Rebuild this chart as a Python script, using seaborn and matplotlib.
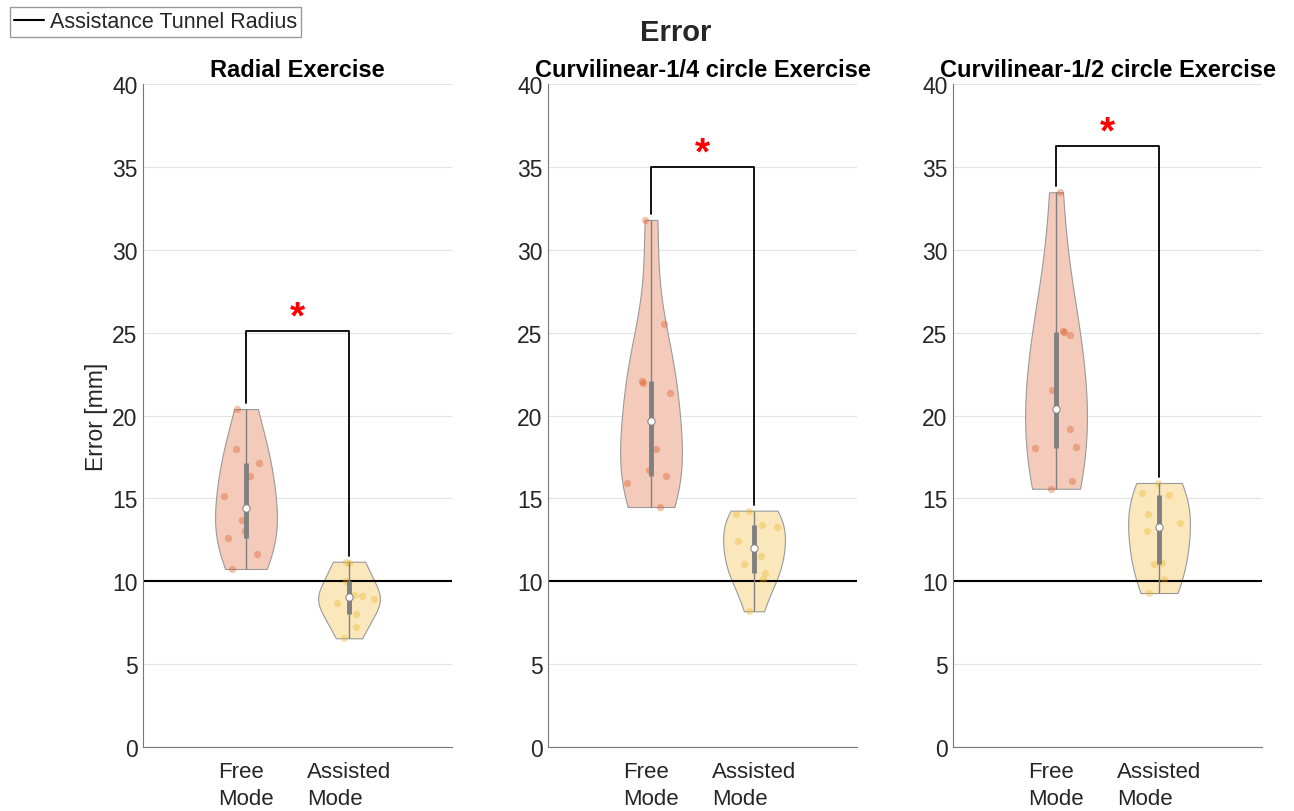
import matplotlib
matplotlib.use("Agg")
import matplotlib.pyplot as plt
import numpy as np
import pandas as pd
import seaborn as sns
from matplotlib.lines import Line2D

# values (mm)
exercises = ["Radial Exercise", "Curvilinear-1/4 circle Exercise", "Curvilinear-1/2 circle Exercise"]
modes = ["Free\nMode", "Assisted\nMode"]

radial_free = [20.39, 17.98, 17.13, 16.35, 15.14, 13.69, 13.03, 12.63, 11.66, 10.74]
radial_assisted = [11.18, 11.10, 10.04, 9.17, 9.13, 8.93, 8.71, 8.00, 7.26, 6.56]
quarter_free = [31.80, 25.54, 22.10, 21.96, 21.36, 17.98, 16.71, 16.37, 15.93, 14.48]
quarter_assisted = [14.26, 14.06, 13.39, 13.29, 12.45, 11.54, 11.07, 10.50, 10.14, 8.19]
half_free = [33.47, 25.12, 25.04, 24.84, 21.56, 19.19, 18.12, 18.02, 16.05, 15.58]
half_assisted = [15.93, 15.32, 15.22, 14.06, 13.49, 13.01, 11.13, 11.03, 10.14, 9.29]

free_values = [radial_free, quarter_free, half_free]
assisted_values = [radial_assisted, quarter_assisted, half_assisted]
bracket_heights = [25.1, 35.0, 36.25]
tunnel_radius = 10
y_ticks = [0, 5, 10, 15, 20, 25, 30, 35, 40]

mode_colors = ["#D95319", "#EDB120"]
VIOLIN_WIDTH = 0.6
TEXT_COLOR = "#262626"


def lighten(color, alpha=0.3):
    rgb = np.array(matplotlib.colors.to_rgb(color))
    return tuple(alpha * rgb + (1 - alpha))


def robust_bandwidth(values):
    """Kernel width as ksdensity picks it: MAD-based sigma, normal reference rule."""
    v = np.asarray(values, dtype=float)
    sig = np.median(np.abs(v - np.median(v))) / 0.6745
    return sig * (4 / (3 * len(v))) ** 0.2


def jitter_offsets(values, half_width, rng):
    """Spread points sideways in proportion to the local density, like the violin."""
    v = np.asarray(values, dtype=float)
    bw = robust_bandwidth(v)
    grid = np.linspace(v.min(), v.max(), 200)

    def dens(y):
        return np.exp(-0.5 * ((y[:, None] - v[None, :]) / bw) ** 2).sum(axis=1)

    scale = dens(v) / dens(grid).max()
    return rng.uniform(-1, 1, len(v)) * scale * half_width * 0.9


sns.set_theme(style="white")
plt.rcParams["font.family"] = ["Liberation Sans", "DejaVu Sans"]

fig = plt.figure(figsize=(12.94, 8.12), dpi=100)
lefts = [0.1105, 0.4235, 0.7365]
rng = np.random.default_rng(3)

for i, title in enumerate(exercises):
    ax = fig.add_axes([lefts[i], 0.0788, 0.2388, 0.8165])
    ax.grid(True, color="#e3e3e3", linewidth=0.8)
    ax.set_axisbelow(True)

    for pos, (vals, color) in enumerate(zip([free_values[i], assisted_values[i]], mode_colors)):
        vals = np.asarray(vals)
        df = pd.DataFrame({"mode": [modes[pos]] * len(vals), "error": vals})
        bw_factor = robust_bandwidth(vals) / vals.std(ddof=1)
        sns.violinplot(
            data=df, x="mode", y="error", order=modes, color=lighten(color),
            inner=None, cut=0, width=VIOLIN_WIDTH, density_norm="width",
            bw_method=bw_factor, linecolor="#9a9a9a", linewidth=0.8,
            saturation=1, ax=ax,
        )
        xs = pos + jitter_offsets(vals, VIOLIN_WIDTH / 2, rng)
        ax.scatter(xs, vals, s=28, color=color, alpha=0.35, linewidths=0, zorder=3)
        q1, med, q3 = np.percentile(vals, [25, 50, 75], method="hazen")
        ax.vlines(pos, vals.min(), vals.max(), color="#808080", linewidth=1, zorder=4)
        ax.vlines(pos, q1, q3, color="#808080", linewidth=3.5, zorder=4)
        ax.scatter([pos], [med], s=28, color="white", edgecolors="#808080", linewidths=0.7, zorder=5)

    # tunnel radius reference
    ax.axhline(tunnel_radius, color="black", linewidth=1.5, zorder=2)

    # significance bracket
    top = bracket_heights[i]
    ax.plot([0, 0, 1, 1],
            [max(free_values[i]) + 0.35, top, top, max(assisted_values[i]) + 0.35],
            color="black", linewidth=1.3, zorder=2)
    ax.text(0.5, top + 0.8, "*", color="red", fontsize=28, fontweight="bold",
            ha="center", va="center")

    ax.set_xlim(-1, 2)
    ax.set_ylim(0, 40)
    ax.set_yticks(y_ticks)
    ax.set_xticks([0, 1])
    ax.set_xticklabels(modes, multialignment="left", linespacing=1.4)
    ax.tick_params(axis="both", direction="in", length=5, width=0.8, colors="#777777",
                   labelcolor=TEXT_COLOR, labelsize=16)
    ax.tick_params(axis="y", labelsize=16.5)
    ax.tick_params(axis="x", pad=10)
    ax.tick_params(axis="y", pad=4)
    ax.set_xlabel("")
    ax.set_ylabel("Error [mm]" if i == 0 else "", fontsize=16.5, color=TEXT_COLOR, labelpad=3)
    ax.set_title(title, fontsize=17, fontweight="bold", color="black", pad=6)
    for side in ["top", "right"]:
        ax.spines[side].set_visible(False)
    for side in ["left", "bottom"]:
        ax.spines[side].set_color("#777777")
        ax.spines[side].set_linewidth(0.8)

fig.suptitle("Error", fontsize=21, fontweight="bold", x=0.522, y=0.977)
fig.legend(handles=[Line2D([], [], color="black", linewidth=1.5)],
           labels=["Assistance Tunnel Radius"], loc="upper left",
           bbox_to_anchor=(0.0077, 0.990), fontsize=15.5, frameon=True, fancybox=False,
           edgecolor="#808080", handlelength=1.4, handletextpad=0.25,
           borderpad=0.2, borderaxespad=0)

fig.savefig("out.png", dpi=100)
